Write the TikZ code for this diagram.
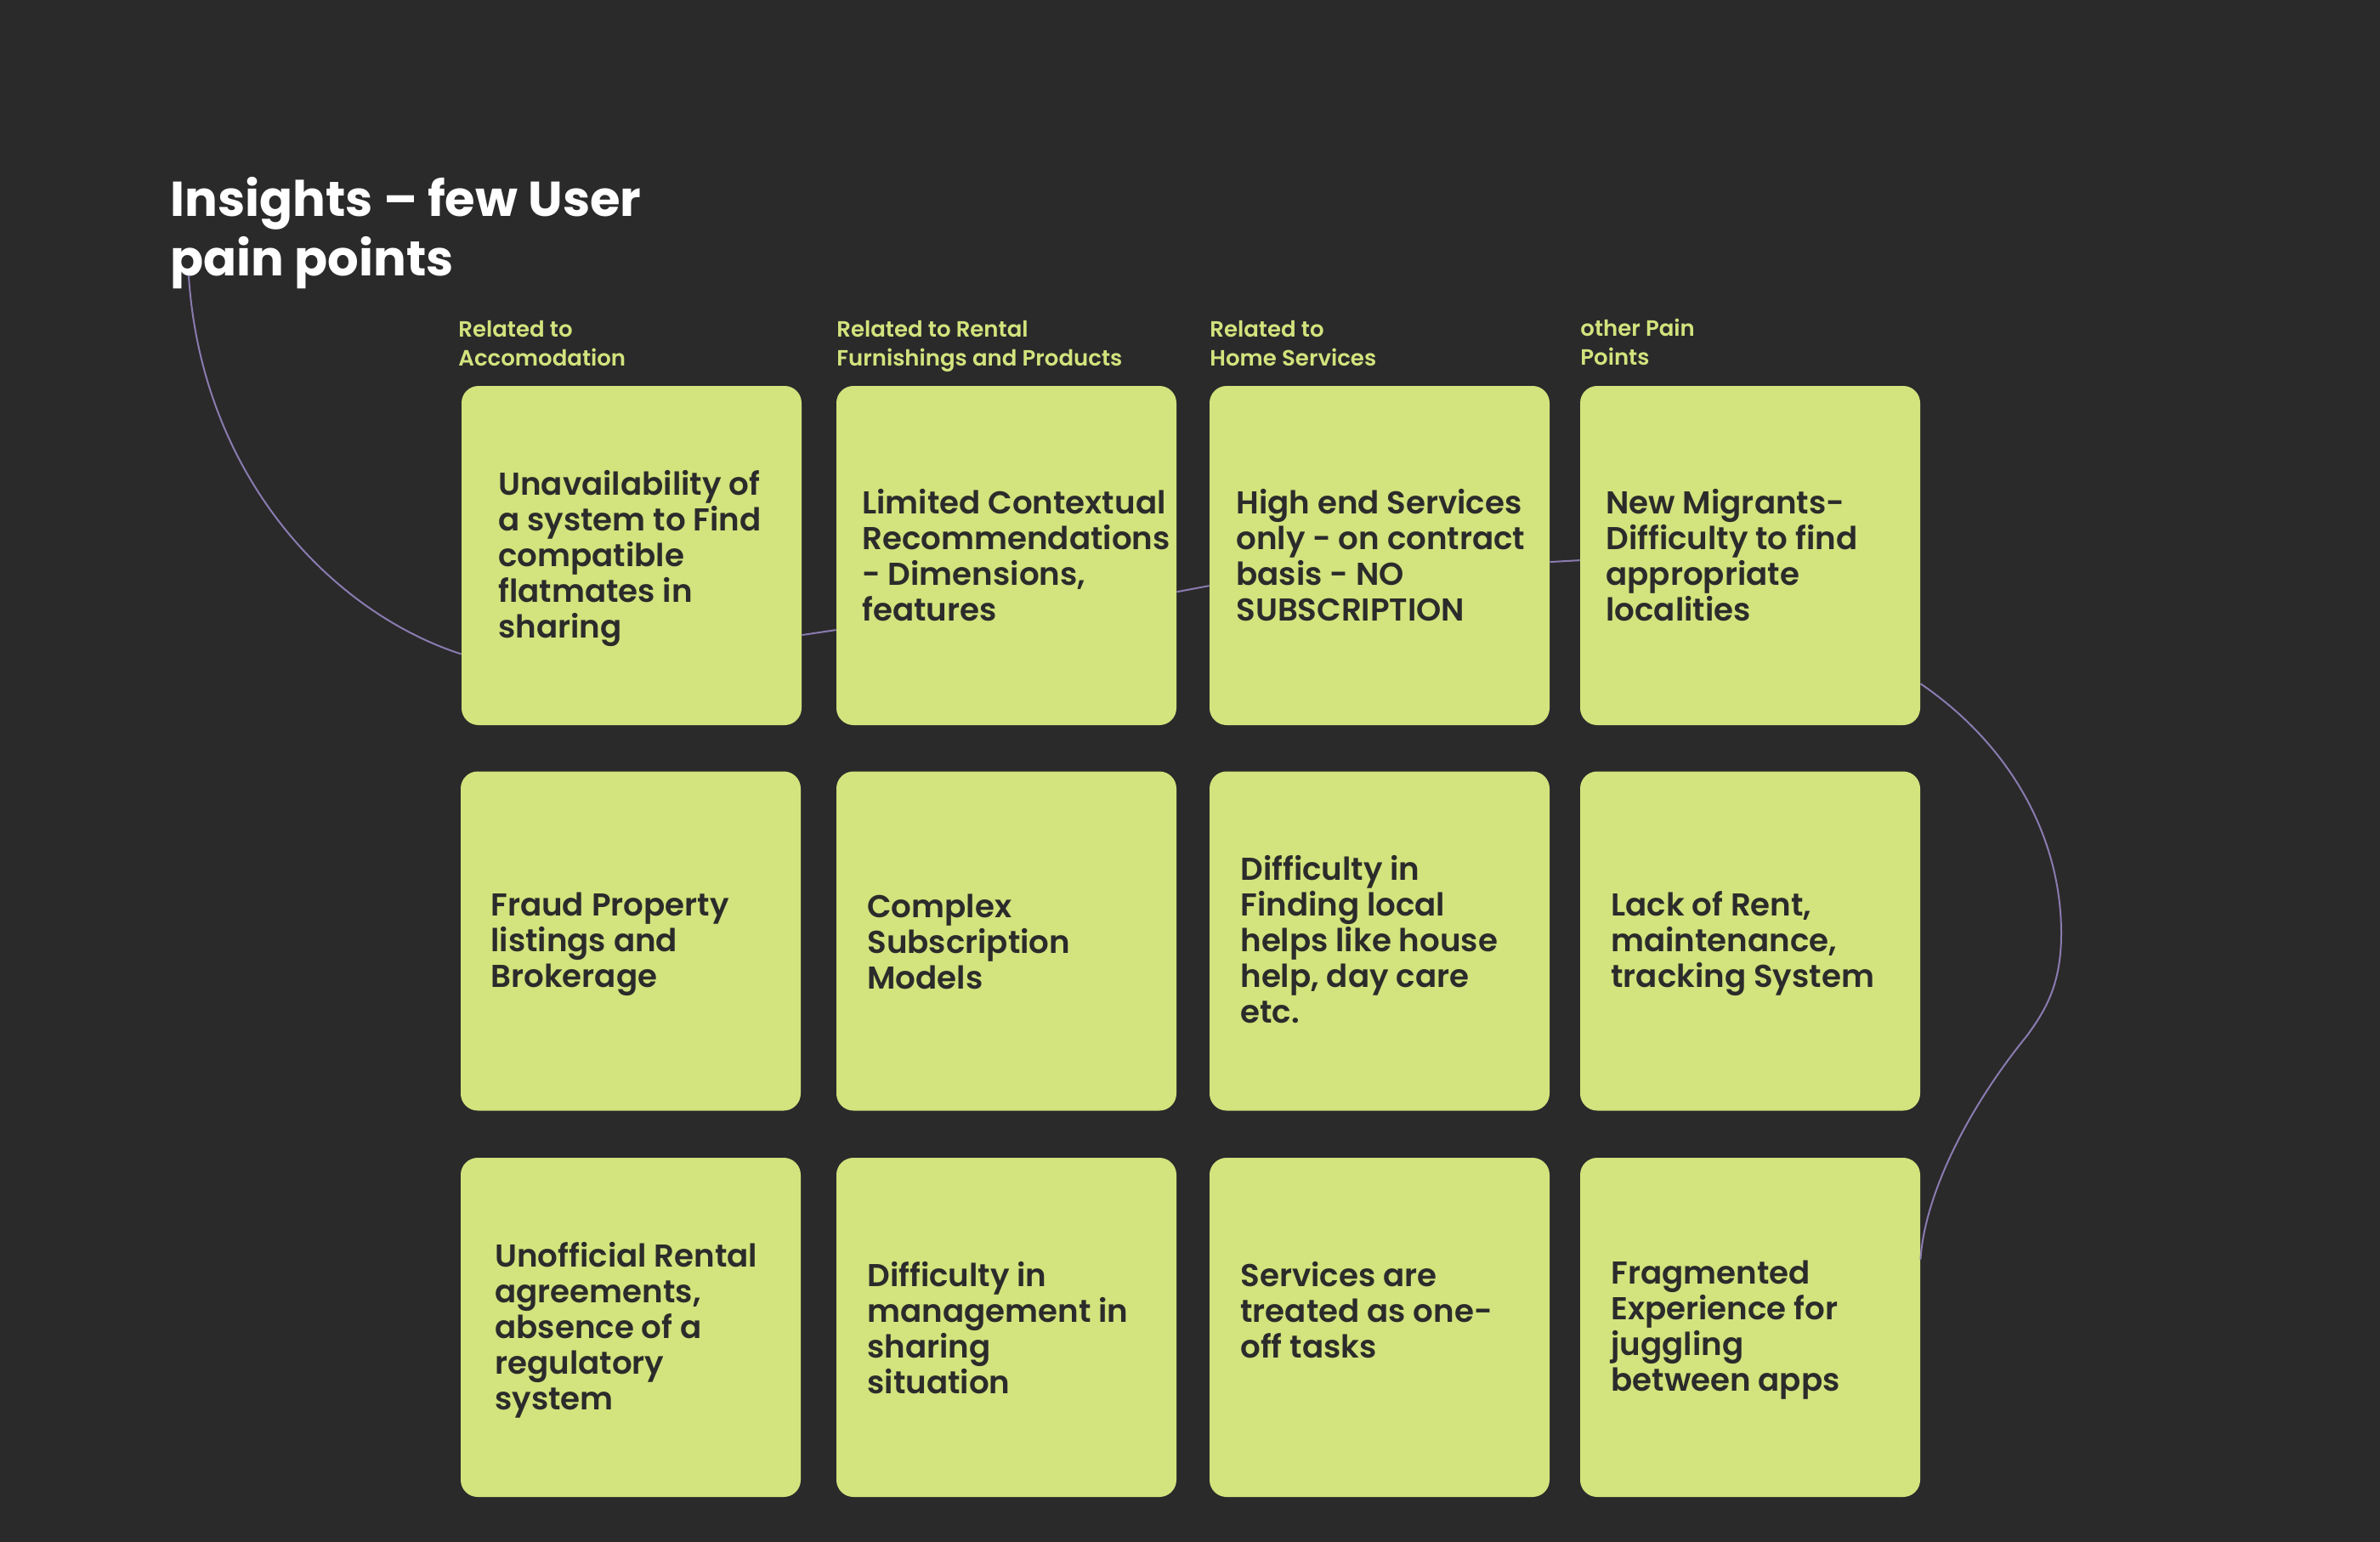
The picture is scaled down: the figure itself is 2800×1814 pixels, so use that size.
\documentclass[tikz,border=0pt]{standalone}
\usepackage{fontspec}
\setmainfont{Poppins}
\newfontfamily\cardfont{Poppins SemiBold}
\newfontfamily\labfont{Poppins SemiBold}
\newfontfamily\titlefont{Poppins Bold}
\usetikzlibrary{calc}
\definecolor{bg}{HTML}{2A2A2A}
\definecolor{lime}{HTML}{D3E37D}
\definecolor{ink}{HTML}{2B2B2B}
\definecolor{wire}{HTML}{8A7BB0}
\tikzset{
  card/.style={fill=lime, rounded corners=10pt, inner sep=0pt, minimum width=200pt, minimum height=199.5pt, draw=none},
  cardtext/.style={anchor=west, align=left, inner sep=0pt, text=ink, font=\cardfont\fontsize{18.6pt}{21pt}\selectfont},
  labtext/.style={anchor=west, align=left, inner sep=0pt, text=lime, font=\labfont\fontsize{13pt}{17pt}\selectfont},
  wireline/.style={draw=wire, line width=1pt}
}
\begin{document}
\begin{tikzpicture}[x=0.5pt, y=-0.5pt]
\useasboundingbox (0,0) rectangle (2800,1814);
\fill[bg] (0,0) rectangle (2800,1814);

% title
\node[anchor=west, align=left, inner sep=0pt, text=white, font=\titlefont\fontsize{28.8pt}{34.8pt}\selectfont] (title) at (200,274) {Insights – few User\\pain points};
\coordinate (tstart) at (222,324);

% labels
\node[labtext] (l1) at (539,404) {Related to\\Accomodation};
\node[labtext] (l2) at (984,407) {Related to Rental\\Furnishings and Products};
\node[labtext] (l3) at (1423,404) {Related to\\Home Services};
\node[labtext] (l4) at (1859,402.5) {other Pain\\Points};

% cards
\node[card] (c11) at (743,653.5) {};
\node[card] (c12) at (1184,653.5) {};
\node[card] (c13) at (1623,653.5) {};
\node[card] (c14) at (2059,653.5) {};
\node[card] (c21) at (742,1107) {};
\node[card] (c22) at (1184,1107) {};
\node[card] (c23) at (1623,1107) {};
\node[card] (c24) at (2059,1107) {};
\node[card] (c31) at (742,1561.5) {};
\node[card] (c32) at (1184,1561.5) {};
\node[card] (c33) at (1623,1561.5) {};
\node[card] (c34) at (2059,1561.5) {};

% card texts
\node[cardtext] (t11) at (586,657) {Unavailability of\\a system to Find\\compatible\\flatmates in\\sharing};
\node[cardtext] (t12) at (1014,653.5) {Limited Contextual\\Recommendations\\- Dimensions,\\features};
\node[cardtext] (t13) at (1454,653.5) {High end Services\\only - on contract\\basis - NO\\SUBSCRIPTION};
\node[cardtext] (t14) at (1889,653.5) {New Migrants-\\Difficulty to find\\appropriate\\localities};
\node[cardtext] (t21) at (577,1110.5) {Fraud Property\\listings and\\Brokerage};
\node[cardtext] (t22) at (1020,1107.5) {Complex\\Subscription\\Models};
\node[cardtext] (t23) at (1459,1105) {Difficulty in\\Finding local\\helps like house\\help, day care\\etc.};
\node[cardtext] (t24) at (1895,1110.5) {Lack of Rent,\\maintenance,\\tracking System};
\node[cardtext] (t31) at (582,1565) {Unofficial Rental\\agreements,\\absence of a\\regulatory\\system};
\node[cardtext] (t32) at (1020,1562) {Difficulty in\\management in\\sharing\\situation};
\node[cardtext] (t33) at (1459,1541) {Services are\\treated as one-\\off tasks};
\node[cardtext] (t34) at (1895,1565) {Fragmented\\Experience for\\juggling\\between apps};

% connectors
\draw[wireline] (tstart) .. controls (237,560) and (390,720) .. ($(c11.north west)!0.79!(c11.south west)$);
\draw[wireline] ($(c11.north east)!0.734!(c11.south east)$) -- ($(c12.north west)!0.719!(c12.south west)$);
\draw[wireline] ($(c12.north east)!0.607!(c12.south east)$) -- ($(c13.north west)!0.589!(c13.south west)$);
\draw[wireline] ($(c13.north east)!0.519!(c13.south east)$) -- ($(c14.north west)!0.514!(c14.south west)$);
\draw[wireline] ($(c14.north east)!0.877!(c14.south east)$)
  .. controls (2370,880) and (2425,990) .. (2425,1098)
  .. controls (2425,1160) and (2405,1190) .. (2385,1218)
  .. controls (2310,1310) and (2264,1410) .. ($(c34.north east)!0.30!(c34.south east)$);
\end{tikzpicture}
\end{document}
